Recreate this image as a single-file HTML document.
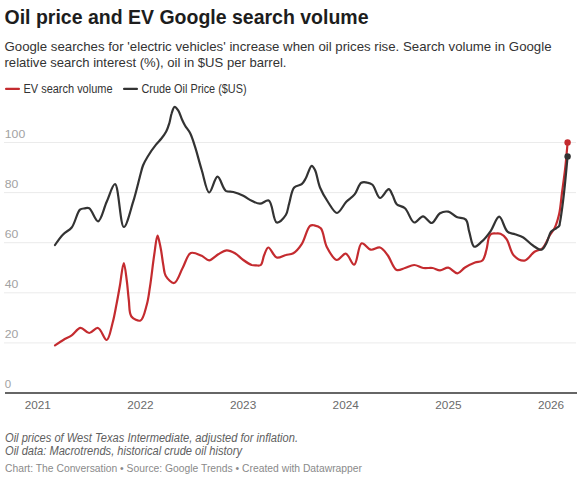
<!DOCTYPE html>
<html><head><meta charset="utf-8"><style>
html,body{margin:0;padding:0;background:#fff;width:582px;height:480px;overflow:hidden}
svg{display:block}
text{font-family:"Liberation Sans",sans-serif}
.title{font-weight:bold;font-size:20.6px;fill:#1d1d1d}
.sub{font-size:13.6px;fill:#333}
.leg{font-size:12px;fill:#333}
.yl{font-size:11.4px;fill:#a2a2a2}
.xl{font-size:11.4px;fill:#6b6b6b}
.note{font-size:12px;font-style:italic;fill:#606060}
.src{font-size:10.5px;fill:#8a8a8a}
</style></head><body>
<svg width="582" height="480" viewBox="0 0 582 480">
<text x="4.5" y="23.7" class="title" textLength="364" lengthAdjust="spacingAndGlyphs">Oil price and EV Google search volume</text>
<text x="4.5" y="51" class="sub" textLength="547" lengthAdjust="spacingAndGlyphs">Google searches for 'electric vehicles' increase when oil prices rise. Search volume in Google</text>
<text x="4.5" y="67" class="sub" textLength="282" lengthAdjust="spacingAndGlyphs">relative search interest (%), oil in $US per barrel.</text>
<line x1="6.1" y1="88.9" x2="18.9" y2="88.9" stroke="#c42b2f" stroke-width="2.3" stroke-linecap="round"/>
<text x="23.5" y="92.7" class="leg" textLength="89" lengthAdjust="spacingAndGlyphs">EV search volume</text>
<line x1="124.1" y1="88.9" x2="136.9" y2="88.9" stroke="#333333" stroke-width="2.3" stroke-linecap="round"/>
<text x="141.5" y="92.7" class="leg" textLength="105" lengthAdjust="spacingAndGlyphs">Crude Oil Price ($US)</text>
<text x="4.8" y="388.3" class="yl" textLength="6.4" lengthAdjust="spacingAndGlyphs">0</text>
<line x1="4" y1="342.9" x2="576" y2="342.9" stroke="#ebebeb" stroke-width="1"/>
<text x="4.8" y="338.2" class="yl" textLength="13.6" lengthAdjust="spacingAndGlyphs">20</text>
<line x1="4" y1="292.8" x2="576" y2="292.8" stroke="#ebebeb" stroke-width="1"/>
<text x="4.8" y="288.1" class="yl" textLength="13.6" lengthAdjust="spacingAndGlyphs">40</text>
<line x1="4" y1="242.7" x2="576" y2="242.7" stroke="#ebebeb" stroke-width="1"/>
<text x="4.8" y="238.0" class="yl" textLength="13.6" lengthAdjust="spacingAndGlyphs">60</text>
<line x1="4" y1="192.6" x2="576" y2="192.6" stroke="#ebebeb" stroke-width="1"/>
<text x="4.8" y="187.9" class="yl" textLength="13.6" lengthAdjust="spacingAndGlyphs">80</text>
<line x1="4" y1="142.5" x2="576" y2="142.5" stroke="#ebebeb" stroke-width="1"/>
<text x="4.8" y="137.8" class="yl" textLength="20.4" lengthAdjust="spacingAndGlyphs">100</text>

<rect x="5" y="392" width="572" height="2" fill="#666"/>
<text x="37.8" y="409.4" class="xl" text-anchor="middle" textLength="26.2" lengthAdjust="spacingAndGlyphs">2021</text>
<text x="140.4" y="409.4" class="xl" text-anchor="middle" textLength="26.2" lengthAdjust="spacingAndGlyphs">2022</text>
<text x="243.1" y="409.4" class="xl" text-anchor="middle" textLength="26.2" lengthAdjust="spacingAndGlyphs">2023</text>
<text x="345.7" y="409.4" class="xl" text-anchor="middle" textLength="26.2" lengthAdjust="spacingAndGlyphs">2024</text>
<text x="448.4" y="409.4" class="xl" text-anchor="middle" textLength="26.2" lengthAdjust="spacingAndGlyphs">2025</text>
<text x="551.0" y="409.4" class="xl" text-anchor="middle" textLength="26.2" lengthAdjust="spacingAndGlyphs">2026</text>

<path d="M55.0,345.3 C55.0,345.3 60.5,341.7 63.3,340.0 C66.1,338.3 69.0,337.2 71.7,335.3 C74.7,333.2 77.5,328.1 80.5,327.8 C83.3,327.6 86.3,333.0 89.2,333.0 C92.1,333.0 95.3,327.4 98.0,328.0 C101.3,328.7 104.3,340.3 106.7,340.0 C109.3,339.6 110.9,329.2 112.5,323.3 C114.3,317.0 115.4,309.8 116.7,303.3 C117.9,297.1 118.9,291.4 120.0,285.0 C121.2,278.0 122.6,263.0 123.8,263.0 C124.8,263.0 125.9,274.1 126.7,280.0 C127.6,286.4 128.0,293.7 128.8,300.0 C129.6,305.8 128.8,313.1 131.4,316.5 C133.4,319.1 138.1,321.5 140.5,320.5 C143.6,319.2 145.1,310.5 146.7,305.0 C148.4,299.2 148.9,293.6 150.0,286.7 C151.4,277.6 152.8,264.3 154.2,255.0 C155.3,247.7 156.4,235.7 157.5,235.6 C158.1,235.6 158.8,239.7 159.4,242.0 C160.1,244.7 160.6,247.7 161.2,251.0 C161.9,255.1 162.5,260.6 163.3,265.0 C164.0,268.9 164.0,273.0 165.8,276.0 C167.6,279.0 171.7,283.5 174.2,283.0 C177.4,282.4 179.8,273.3 182.5,268.3 C185.3,263.3 187.1,254.6 190.8,253.0 C193.8,251.7 198.5,254.5 201.7,255.8 C204.5,257.0 206.6,260.4 209.2,260.3 C212.1,260.2 215.3,255.9 218.3,254.2 C221.1,252.6 223.9,250.4 226.7,250.3 C229.5,250.2 232.4,251.8 235.0,253.3 C237.9,254.9 240.5,258.0 243.3,260.0 C246.0,261.9 249.3,264.2 251.7,265.0 C253.4,265.5 254.7,265.4 256.2,265.4 C257.7,265.4 259.6,266.0 260.8,265.0 C262.6,263.6 262.9,258.0 264.2,255.0 C265.4,252.3 266.5,247.7 268.3,247.5 C270.5,247.3 273.5,256.5 276.7,257.5 C279.4,258.4 282.9,255.7 285.8,255.0 C288.4,254.3 290.9,254.7 293.3,253.3 C296.3,251.6 299.2,248.0 301.7,244.2 C304.9,239.3 307.0,228.0 310.0,225.8 C311.4,224.8 312.7,225.1 314.2,225.3 C316.2,225.6 319.0,226.3 320.8,228.3 C323.8,231.6 323.9,241.3 326.7,246.7 C329.3,251.7 333.2,259.4 336.7,260.0 C339.6,260.5 343.0,253.3 345.8,253.7 C348.9,254.2 351.8,265.1 354.2,264.7 C357.3,264.2 358.1,244.4 361.7,243.3 C364.2,242.5 367.6,249.1 370.8,249.7 C373.7,250.3 377.3,246.7 380.0,247.5 C382.9,248.3 385.1,251.9 387.5,255.0 C390.7,259.0 393.1,268.5 396.7,270.0 C399.2,271.0 402.2,268.8 405.0,268.0 C408.0,267.1 411.1,265.0 414.2,265.0 C417.2,265.0 420.2,267.5 423.3,268.0 C426.3,268.5 429.6,267.6 432.5,268.0 C435.2,268.4 437.4,270.3 440.0,270.3 C442.7,270.3 445.5,267.4 448.3,267.7 C451.4,268.1 454.6,273.5 457.5,273.3 C460.2,273.2 462.2,269.2 465.0,267.5 C468.0,265.6 471.9,263.7 475.0,262.5 C477.6,261.5 480.6,262.2 482.4,260.5 C484.6,258.5 485.3,253.8 486.4,250.0 C487.6,245.8 487.9,239.2 489.2,236.5 C489.9,235.1 490.5,234.3 491.5,233.8 C492.7,233.2 494.5,233.5 496.0,233.5 C497.5,233.5 499.0,233.2 500.5,233.8 C502.5,234.6 504.7,236.5 506.5,239.0 C509.3,242.7 510.3,251.8 513.8,255.4 C516.6,258.3 521.1,261.0 524.4,260.6 C528.0,260.1 531.2,253.8 534.5,251.7 C537.2,250.0 540.2,250.4 542.5,248.3 C545.6,245.5 547.7,238.8 550.0,235.0 C551.7,232.1 553.4,230.6 554.8,227.6 C556.6,223.8 558.0,218.9 559.2,213.7 C560.6,207.3 561.1,199.2 562.1,191.9 C563.1,184.6 564.1,177.7 565.0,170.0 C566.0,161.4 567.6,142.5 567.6,142.5" fill="none" stroke="#c42b2f" stroke-width="2.2" stroke-linejoin="round" stroke-linecap="round"/>
<path d="M55.0,245.0 C55.0,245.0 60.3,237.2 63.3,234.2 C65.9,231.5 69.2,230.6 71.7,227.5 C75.1,223.2 77.0,212.2 80.0,209.7 C81.5,208.4 83.1,208.6 84.6,208.4 C86.1,208.2 87.6,207.5 89.2,208.3 C92.1,209.8 95.3,221.5 98.0,221.3 C101.2,221.0 103.8,208.0 106.7,201.7 C109.5,195.7 112.6,183.9 115.0,184.2 C118.7,184.6 120.3,226.7 123.8,227.0 C126.6,227.2 130.4,210.4 133.2,201.7 C136.0,192.8 138.7,180.8 140.5,174.2 C141.5,170.5 141.9,168.4 143.0,165.5 C144.2,162.5 145.7,159.8 147.6,156.7 C149.9,152.9 153.4,147.8 156.0,144.6 C157.9,142.2 159.5,140.9 161.2,138.8 C163.0,136.6 164.8,134.1 166.2,131.5 C167.6,128.9 168.5,125.9 169.4,123.0 C170.3,120.0 170.6,116.3 171.6,113.5 C172.4,111.0 173.4,107.0 174.6,106.8 C175.6,106.6 177.1,108.8 178.2,110.4 C179.7,112.6 180.7,116.6 181.9,119.3 C182.9,121.6 183.8,123.4 185.0,125.5 C186.4,128.0 188.7,130.2 190.2,133.3 C192.1,137.1 193.4,141.6 195.0,146.7 C197.2,153.4 199.3,162.3 201.7,170.0 C204.1,177.6 206.3,192.3 209.2,192.5 C211.7,192.7 214.7,176.8 217.5,176.7 C220.2,176.6 222.5,188.5 225.8,190.8 C228.1,192.3 230.7,191.3 233.3,192.0 C236.4,192.8 240.2,194.3 243.3,195.8 C246.3,197.2 248.8,199.5 251.7,200.8 C254.4,202.1 257.2,203.7 260.0,203.7 C262.9,203.7 266.4,199.4 268.8,200.6 C272.7,202.4 273.1,221.5 276.7,222.5 C279.3,223.2 283.7,218.2 285.8,215.0 C287.9,211.8 287.9,207.5 289.2,203.3 C290.7,198.4 291.4,190.6 294.2,187.5 C296.2,185.3 299.7,185.8 301.7,184.2 C303.5,182.7 304.4,180.7 305.8,178.3 C307.7,175.0 309.9,166.0 311.7,165.8 C312.8,165.7 314.0,168.0 315.0,170.0 C316.9,173.7 317.7,182.0 320.0,187.5 C322.2,192.8 325.3,198.1 328.3,202.5 C331.0,206.5 334.1,213.0 337.0,213.0 C340.0,213.0 343.2,205.0 346.3,201.8 C349.0,199.0 352.2,197.4 354.6,194.4 C357.3,191.1 358.6,184.4 361.3,182.8 C363.1,181.7 365.4,182.2 367.3,182.6 C369.1,182.9 370.8,183.3 372.5,184.8 C375.2,187.2 377.1,197.6 380.0,198.0 C382.6,198.3 386.5,189.0 388.7,189.2 C390.4,189.4 391.3,192.8 392.5,195.0 C394.0,197.7 394.5,202.0 396.7,204.2 C398.8,206.3 402.4,206.0 405.0,208.3 C408.5,211.4 410.8,221.8 414.2,222.5 C416.9,223.0 420.1,216.2 423.0,216.3 C425.9,216.4 429.0,223.3 431.7,223.0 C434.7,222.7 436.9,215.1 440.0,213.3 C442.5,211.8 445.6,211.2 448.3,211.7 C451.2,212.2 453.7,215.7 456.7,217.0 C459.6,218.3 463.7,217.5 465.8,219.6 C468.2,222.0 467.9,227.5 469.2,231.7 C470.7,236.4 471.6,245.8 474.2,246.7 C476.2,247.4 479.2,243.9 481.7,241.7 C484.8,238.9 488.0,234.8 490.8,230.8 C493.8,226.5 496.4,216.7 499.2,216.7 C502.0,216.7 504.2,228.9 507.5,231.7 C509.7,233.6 512.5,233.3 515.0,234.2 C517.7,235.2 520.5,235.9 523.3,237.5 C526.6,239.5 530.0,243.7 533.3,245.8 C536.1,247.6 539.5,250.3 541.7,249.7 C543.8,249.1 545.1,245.6 546.5,243.0 C548.2,239.8 549.0,234.3 551.0,231.8 C552.5,230.0 554.7,229.4 556.2,228.3 C557.4,227.4 558.6,226.7 559.2,225.8 C559.7,225.1 559.6,224.6 559.8,223.4 C560.4,220.3 561.6,212.4 562.4,206.4 C563.3,199.6 564.1,192.3 564.9,184.6 C565.8,175.8 567.6,156.4 567.6,156.4" fill="none" stroke="#333333" stroke-width="2.2" stroke-linejoin="round" stroke-linecap="round"/>
<circle cx="567.6" cy="142.5" r="3.2" fill="#c42b2f"/>
<circle cx="567.6" cy="156.4" r="3.2" fill="#333333"/>
<text x="5" y="441.8" class="note" textLength="293" lengthAdjust="spacingAndGlyphs">Oil prices of West Texas Intermediate, adjusted for inflation.</text>
<text x="5" y="454.6" class="note" textLength="237" lengthAdjust="spacingAndGlyphs">Oil data: Macrotrends, historical crude oil history</text>
<text x="5" y="471.7" class="src" textLength="357" lengthAdjust="spacingAndGlyphs">Chart: The Conversation • Source: Google Trends • Created with Datawrapper</text>
</svg>
</body></html>
